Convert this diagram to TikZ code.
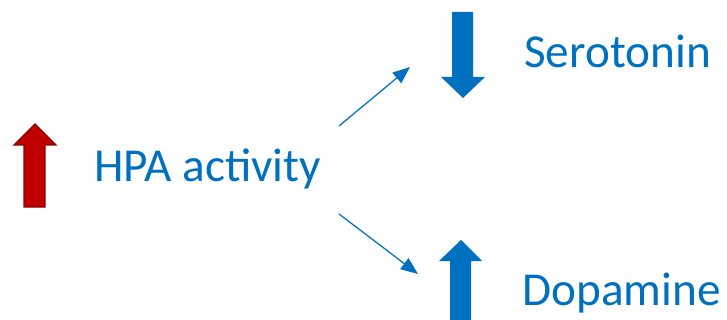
\documentclass[tikz,border=0pt]{standalone}
\usepackage{fontspec}
\setmainfont{Carlito}
\usepackage{xcolor}
\usetikzlibrary{arrows.meta}

\definecolor{hpablue}{HTML}{0070C0}
\definecolor{hpared}{HTML}{C00000}
\definecolor{hpadarkred}{HTML}{8B0000}

\begin{document}
\begin{tikzpicture}[
        x=0.025cm, y=-0.025cm,
        label/.style={anchor=base west, inner sep=0pt, text=hpablue,
                      font=\fontsize{33.6}{40}\selectfont},
        uparrow/.style={fill=hpared, draw=hpadarkred, line width=0.8pt, line join=miter},
        bluearrow/.style={fill=hpablue, draw=none},
        arrow/.style={-{Triangle[length=0.43cm, width=0.34cm]}, draw=hpablue, line width=0.9pt}
    ]
        \clip (0,0) rectangle (727,320);
        % block arrows
        \draw[uparrow] (24,207) -- (24,145) -- (14,145) -- (35,124) -- (56,145) -- (45,145) -- (45,207) -- cycle;
        \fill[bluearrow] (452,12) -- (452,77) -- (441,77) -- (463,98) -- (485,77) -- (473,77) -- (473,12) -- cycle;
        \fill[bluearrow] (450,330) -- (450,261) -- (439,261) -- (461,240) -- (482,261) -- (471,261) -- (471,330) -- cycle;

        \node[label] (hpa) at (94,182) {HPA activity};
        \node[label] (sero) at (524,68) {Serotonin};
        \node[label] (dopa) at (522,305) {Dopamine};

        \coordinate (up start) at (339,126);
        \coordinate (up end) at (410,67);
        \coordinate (down start) at (339,214);
        \coordinate (down end) at (418,274);
        \draw[arrow] (up start) -- (up end);
        \draw[arrow] (down start) -- (down end);
    \end{tikzpicture}
\end{document}
